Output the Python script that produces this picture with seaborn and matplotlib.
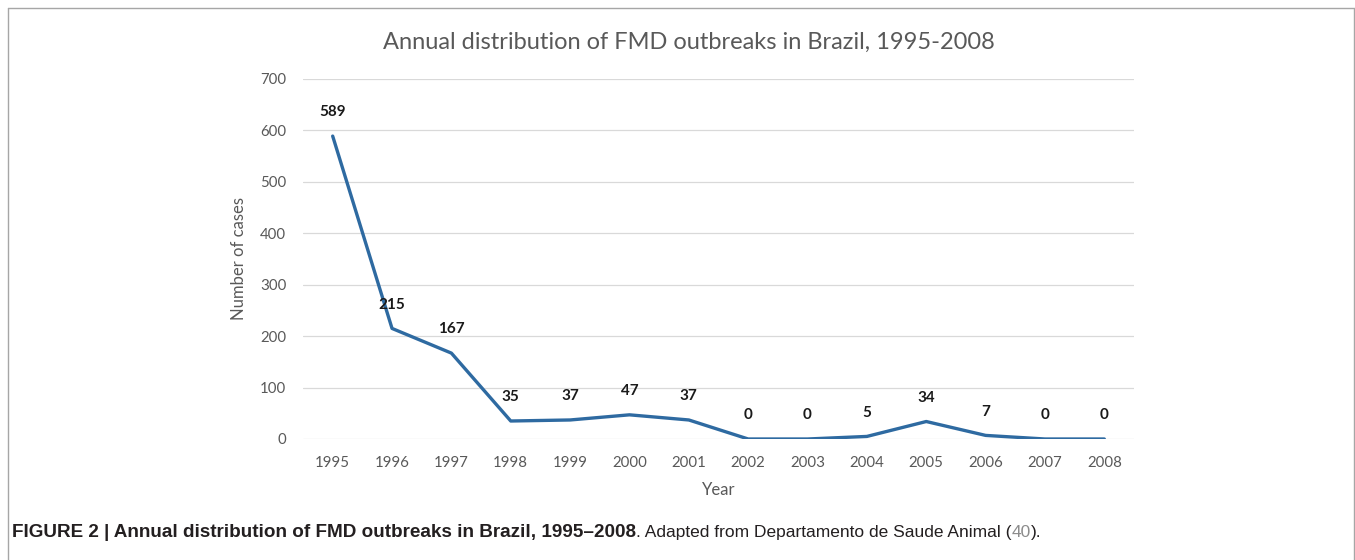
import matplotlib
matplotlib.use("Agg")
import matplotlib.pyplot as plt
import seaborn as sns
import pandas as pd
from matplotlib.lines import Line2D

years = ["1995", "1996", "1997", "1998", "1999", "2000", "2001",
         "2002", "2003", "2004", "2005", "2006", "2007", "2008"]
cases = [589, 215, 167, 35, 37, 47, 37, 0, 0, 5, 34, 7, 0, 0]
yticks = [0, 100, 200, 300, 400, 500, 600, 700]

title = "Annual distribution of FMD outbreaks in Brazil, 1995-2008"
cap_bold = "FIGURE 2 | Annual distribution of FMD outbreaks in Brazil, 1995\u20132008"
cap_norm = ". Adapted from Departamento de Saude Animal ("
cap_ref = "40"
cap_end = ")."

sns.set_theme(style="white")
plt.rcParams["font.family"] = ["Lato", "DejaVu Sans"]

df = pd.DataFrame({"Year": years, "Cases": cases})

fig = plt.figure(figsize=(13.55, 5.6), dpi=100)
ax = fig.add_axes([303 / 1355, 1 - 439 / 560, 831 / 1355, 360 / 560])

sns.lineplot(data=df, x="Year", y="Cases", ax=ax, color="#2e6aa1",
             linewidth=2.4, sort=False)

ax.set_xlim(-0.5, len(years) - 0.5)
ax.set_ylim(0, 700)
ax.set_yticks(yticks)
ax.grid(axis="y", color="#d9d9d9", linewidth=0.9)
ax.set_axisbelow(True)
for s in ax.spines.values():
    s.set_visible(False)
ax.tick_params(axis="both", length=0, labelsize=10.8, labelcolor="#595959")
ax.tick_params(axis="y", pad=12)
ax.tick_params(axis="x", pad=12)

ax.set_xlabel("Year", fontsize=12, color="#595959", labelpad=9)
ax.set_ylabel("Number of cases", fontsize=12, color="#595959", labelpad=9)

for i, v in enumerate(cases):
    ax.annotate(str(v), (i, v), xytext=(0, 12), textcoords="offset points",
                ha="center", va="bottom", fontsize=11, fontweight="bold",
                color="#1a1a1a", annotation_clip=False)

fig.text(689 / 1355, 1 - 42 / 560, title, ha="center", va="center",
         fontsize=17, color="#595959")

# frame around figure
frame_col = "#a6a6a6"
fig.add_artist(Line2D([8 / 1355, 8 / 1355], [0, 1 - 8 / 560], transform=fig.transFigure,
                      color=frame_col, lw=1))
fig.add_artist(Line2D([8 / 1355, 1354 / 1355], [1 - 8 / 560, 1 - 8 / 560],
                      transform=fig.transFigure, color=frame_col, lw=1))
fig.add_artist(Line2D([1354 / 1355, 1354 / 1355], [0, 1 - 8 / 560],
                      transform=fig.transFigure, color=frame_col, lw=1))

# caption with mixed styles
cap_family = ["Liberation Sans", "DejaVu Sans"]
cap_y = 1 - 537 / 560
fig.canvas.draw()
renderer = fig.canvas.get_renderer()
x = 12 / 1355
parts = [(cap_bold, "bold", "#231f20", 13.6), (cap_norm, "normal", "#231f20", 12.5),
         (cap_ref, "normal", "#8c8c8c", 12.5), (cap_end, "normal", "#231f20", 12.5)]
for txt, wt, col, fs in parts:
    t = fig.text(x, cap_y, txt, ha="left", va="baseline", fontsize=fs,
                 fontweight=wt, color=col, family=cap_family)
    bb = t.get_window_extent(renderer=renderer)
    x = x + bb.width / fig.bbox.width

fig.savefig("out.png", dpi=100)
